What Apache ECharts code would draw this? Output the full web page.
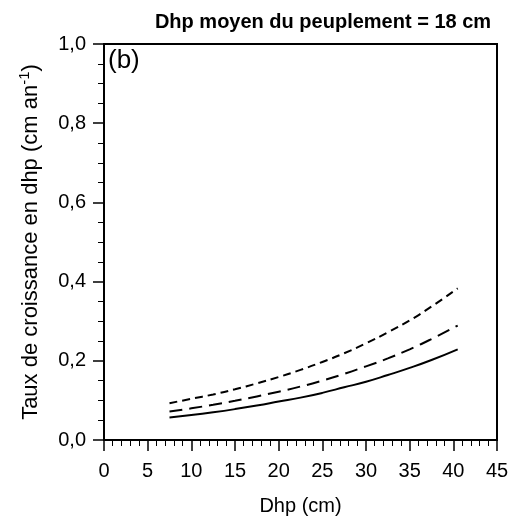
<!DOCTYPE html>
<html>
<head>
<meta charset="utf-8">
<script src="https://cdn.jsdelivr.net/npm/echarts@6/dist/echarts.min.js"></script>
<style>
  html, body { margin: 0; padding: 0; background: #fff; }
  #chart { width: 514px; height: 521px; }
</style>
</head>
<body>
<div id="chart"></div>
<script>
// Diameter at breast height (cm) at which the curves are evaluated
const dhp = [7.5, 10, 12.5, 15, 17.5, 20, 22.5, 25, 27.5, 30, 32.5, 35, 37.5, 40.5];
// Diameter growth rate (cm/yr), three scenarios
const growthSolid = [0.057, 0.063, 0.070, 0.078, 0.087, 0.097, 0.107, 0.119, 0.133, 0.147, 0.164, 0.182, 0.202, 0.229];
const growthLongDash = [0.072, 0.080, 0.089, 0.099, 0.110, 0.122, 0.135, 0.150, 0.167, 0.186, 0.206, 0.229, 0.255, 0.289];
const growthShortDash = [0.093, 0.104, 0.115, 0.128, 0.143, 0.159, 0.177, 0.197, 0.219, 0.244, 0.272, 0.302, 0.337, 0.383];
const yTickLabels = { 0: '0,0', 0.2: '0,2', 0.4: '0,4', 0.6: '0,6', 0.8: '0,8', 1: '1,0' };

const FONT = 'Liberation Sans, Arial, sans-serif';
const pairs = arr => dhp.map((x, i) => [x, arr[i]]);

const chart = echarts.init(document.getElementById('chart'), null, { renderer: 'canvas' });

function lineSeries(values, dash) {
  return {
    type: 'line',
    data: pairs(values),
    showSymbol: false,
    smooth: true,
    lineStyle: { color: '#000', width: 2, type: dash },
    z: 3
  };
}

chart.setOption({
  animation: false,
  title: {
    text: 'Dhp moyen du peuplement = 18 cm',
    left: 318,
    textAlign: 'center',
    top: 7,
    textStyle: { fontFamily: FONT, fontWeight: 'bold', fontSize: 20, color: '#000' }
  },
  grid: {
    left: 104, right: 17, top: 44, bottom: 81,
    show: true, borderColor: '#000', borderWidth: 2, backgroundColor: 'transparent'
  },
  xAxis: {
    type: 'value',
    min: 0, max: 45, interval: 5,
    name: 'Dhp (cm)',
    nameLocation: 'middle',
    nameGap: 56,
    nameTextStyle: { fontFamily: FONT, fontSize: 20, color: '#000' },
    axisLine: { show: true, lineStyle: { color: '#000', width: 2 } },
    axisTick: { show: true, length: 11, lineStyle: { color: '#000', width: 1.5 } },
    minorTick: { show: true, splitNumber: 5, length: 6, lineStyle: { color: '#000', width: 1 } },
    splitLine: { show: false },
    axisLabel: { margin: 21, fontFamily: FONT, fontSize: 20, color: '#000' }
  },
  yAxis: {
    type: 'value',
    min: 0, max: 1, interval: 0.2,
    name: '{n|Taux de croissance en dhp (cm an}{s|-1}{n|)}',
    nameLocation: 'middle',
    nameRotate: 90,
    nameGap: 60,
    nameTextStyle: {
      fontFamily: FONT, fontSize: 22, color: '#000',
      rich: {
        n: { fontFamily: FONT, fontSize: 22, color: '#000' },
        s: { fontFamily: FONT, fontSize: 15, color: '#000', verticalAlign: 'top', padding: [0, 0, 12, 0] }
      }
    },
    axisLine: { show: true, lineStyle: { color: '#000', width: 2 } },
    axisTick: { show: true, length: 11, lineStyle: { color: '#000', width: 1.5 } },
    minorTick: { show: true, splitNumber: 4, length: 6, lineStyle: { color: '#000', width: 1 } },
    splitLine: { show: false },
    axisLabel: {
      margin: 18, fontFamily: FONT, fontSize: 20, color: '#000',
      formatter: v => yTickLabels[Math.round(v * 10) / 10] ?? ''
    }
  },
  graphic: [{
    type: 'text',
    left: 108, top: 48,
    style: { text: '(b)', font: '26px ' + FONT, fill: '#000' }
  }],
  series: [
    lineSeries(growthSolid, 'solid'),
    lineSeries(growthLongDash, [13, 7]),
    lineSeries(growthShortDash, [8, 5])
  ]
});
</script>
</body>
</html>
